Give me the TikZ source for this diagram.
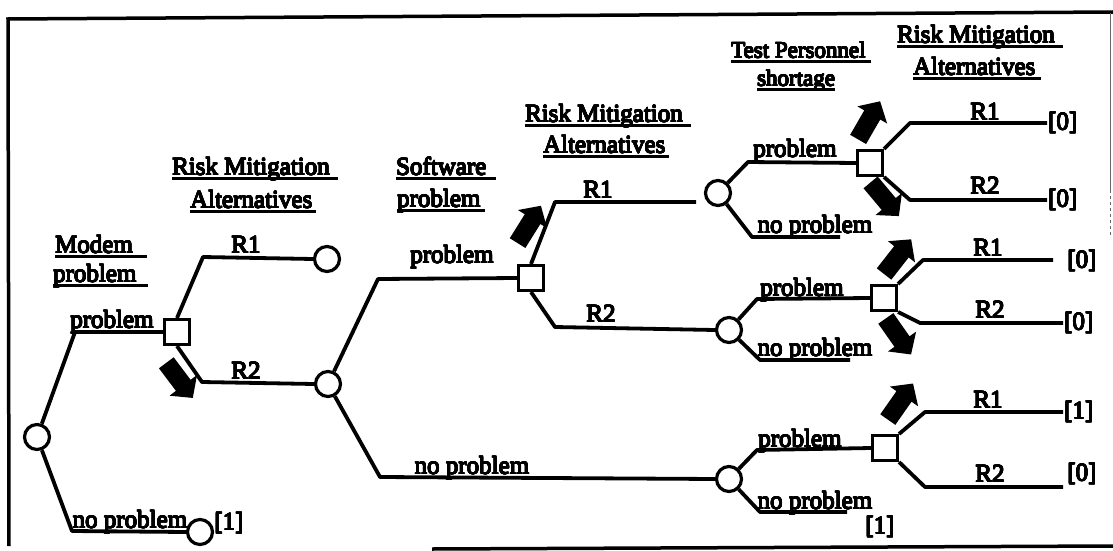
\documentclass[tikz,border=0pt]{standalone}
\usepackage{fontspec}
\setmainfont{Liberation Serif}
\usepackage{contour}
\contourlength{0.45pt}
\contournumber{16}
\usetikzlibrary{shapes.arrows}

% heavy type, as printed
\newcommand\tx[1]{\contour{black}{#1}}
% underlined heading text; the rule runs a little past the word
\newcommand\hul[2][8pt]{\sbox0{\tx{#2}}\rlap{\rule[-4.6pt]{\dimexpr\wd0+#1\relax}{2.4pt}}\usebox0}
% strut that sets the shaft width of a marker arrow
\newcommand\shaft{\rule{0pt}{18pt}}

\tikzset{
  branch/.style={line width=3.8pt, line join=round},
  chance/.style={circle, draw, line width=3.2pt, minimum size=25pt, inner sep=0pt, fill=white},
  decision/.style={rectangle, draw, line width=3pt, minimum size=25pt, inner sep=0pt, fill=white},
  lbl/.style={font=\fontsize{25}{28}\selectfont, inner sep=0pt, anchor=base},
  val/.style={font=\fontsize{25}{28}\selectfont, inner sep=1pt},
  head/.style={font=\fontsize{25}{28}\selectfont, inner sep=0pt, anchor=base west},
  smallhead/.style={font=\fontsize{23}{26}\selectfont, inner sep=0pt, anchor=base west},
  fat/.style={single arrow, fill=black, draw=none, inner xsep=0pt, inner ysep=0pt,
    minimum height=44pt, single arrow head extend=8pt, single arrow tip angle=95},
  frame/.style={line width=3.5pt}
}

\begin{document}
\begin{tikzpicture}[x=1pt,y=-1pt]
\useasboundingbox (0,0) rectangle (1113,551);

% outer frame
\draw[frame] (1113,12) -- (8,19) -- (9,546);
\draw[frame] (432,549) -- (1113,546);
\draw[line width=1pt, black!60] (1110,13) -- (1110,190);
\draw[line width=1pt, black!60, dashed] (1110,190) -- (1110,236);

% decision and chance nodes
\node[chance]   (c1)  at (37,437)  {};
\node[decision] (sq1) at (177,332) {};
\node[chance]   (c2)  at (327,259) {};
\node[chance]   (c3)  at (328,384) {};
\node[chance]   (c4)  at (200,532) {};
\node[decision] (sq2) at (531,278) {};
\node[chance]   (c5)  at (718,193) {};
\node[chance]   (c6)  at (729,330) {};
\node[chance]   (c7)  at (729,479) {};
\node[decision] (sq3) at (870,163) {};
\node[decision] (sq4) at (884,298) {};
\node[decision] (sq5) at (885,448) {};

% loose branch ends
\coordinate (er12) at (696,202);
\coordinate (enp3) at (840,237);
\coordinate (enp4) at (850,360);
\coordinate (enp5) at (847,512);
\coordinate (e13) at (1047,123);
\coordinate (e23) at (1047,200);
\coordinate (e14) at (1053,260);
\coordinate (e24) at (1063,323);
\coordinate (e15) at (1063,412);
\coordinate (e25) at (1063,487);

% branches
\draw[branch] (c1) -- (75,332) -- (sq1.west);
\draw[branch] (c1) -- (72,531) -- (c4.west);
\draw[branch] (sq1.north) -- (203,257) -- (c2.west);
\draw[branch] (sq1.south) -- (202,382) -- (c3.west);
\draw[branch] (c3) -- (378,279) -- (sq2.west);
\draw[branch] (c3) -- (380,477) -- (c7.west);
\draw[branch] (sq2.north) -- (555,202) -- (er12);
\draw[branch] (sq2.south) -- (555,327) -- (c6.west);
\draw[branch] (c5) -- (748,162) -- (sq3.west);
\draw[branch] (c5) -- (752,237) -- (enp3);
\draw[branch] (sq3.north east) -- (910,123) -- (e13);
\draw[branch] (sq3.south east) -- (910,200) -- (e23);
\draw[branch] (c6) -- (757,299) -- (sq4.west);
\draw[branch] (c6) -- (760,360) -- (enp4);
\draw[branch] (sq4.north east) -- (923,260) -- (e14);
\draw[branch] (sq4.south east) -- (920,323) -- (e24);
\draw[branch] (c7) -- (757,450) -- (sq5.west);
\draw[branch] (c7) -- (760,512) -- (enp5);
\draw[branch] (sq5.north east) -- (925,412) -- (e15);
\draw[branch] (sq5.south east) -- (925,487) -- (e25);

% stage headings
\node[head] (h1a) at (55,253)  {\hul[14pt]{Modem}};
\node[head] (h1b) at (53,282)  {\hul[11pt]{problem}};
\node[head] (h2a) at (172,175) {\hul[8pt]{Risk Mitigation}};
\node[head] (h2b) at (190,208) {\hul[4pt]{Alternatives}};
\node[head] (h3a) at (396,175) {\hul[10pt]{Software}};
\node[head] (h3b) at (397,207) {\hul[4pt]{problem}};
\node[head] (h4a) at (525,122) {\hul[8pt]{Risk Mitigation}};
\node[head] (h4b) at (543,153) {\hul[4pt]{Alternatives}};
\node[smallhead] (h5a) at (731,58) {\hul[5pt]{Test Personnel}};
\node[smallhead] (h5b) at (757,86) {\hul[0pt]{shortage}};
\node[head] (h6a) at (897,43)  {\hul[8pt]{Risk Mitigation}};
\node[head] (h6b) at (913,75)  {\hul[6pt]{Alternatives}};

% branch labels
\node[lbl] (p1)  at (112,328) {\tx{problem}};
\node[lbl] (np1) at (130,528) {\tx{no problem}};
\node[lbl] (v1)  at (229,530) {\tx{[1]}};
\node[lbl] (r11) at (246,253) {\tx{R1}};
\node[lbl] (r21) at (246,379) {\tx{R2}};
\node[lbl] (p2)  at (452,263) {\tx{problem}};
\node[lbl] (np2) at (472,474) {\tx{no problem}};
\node[lbl] (r12) at (598,198) {\tx{R1}};
\node[lbl] (r22) at (601,322) {\tx{R2}};
\node[lbl] (p3)  at (795,157) {\tx{problem}};
\node[lbl] (np3) at (815,233) {\tx{no problem}};
\node[lbl] (r13) at (985,120) {\tx{R1}};
\node[lbl] (r23) at (985,194) {\tx{R2}};
\node[lbl] (p4)  at (802,296) {\tx{problem}};
\node[lbl] (np4) at (815,356) {\tx{no problem}};
\node[lbl] (r14) at (988,256) {\tx{R1}};
\node[lbl] (r24) at (990,318) {\tx{R2}};
\node[lbl] (p5)  at (800,447) {\tx{problem}};
\node[lbl] (np5) at (815,509) {\tx{no problem}};
\node[lbl] (r15) at (988,408) {\tx{R1}};
\node[lbl] (r25) at (990,482) {\tx{R2}};

% outcome values
\node[val, anchor=west] (v13) at (e13) {\tx{[0]}};
\node[val, anchor=west] (v23) at (e23) {\tx{[0]}};
\node[val] (v14) at (1082,261) {\tx{[0]}};
\node[val, anchor=west] (v24) at (e24) {\tx{[0]}};
\node[val, anchor=west] (v15) at (e15) {\tx{[1]}};
\node[val] (v25) at (1082,474) {\tx{[0]}};
\node[val] (v5)  at (880,527) {\tx{[1]}};

% chosen-alternative markers
\node[fat, rotate=-53] (a1) at (177,377) {\shaft};
\node[fat, rotate=58]  (a2) at (527,228) {\shaft};
\node[fat, rotate=60]  (a3) at (867,124) {\shaft};
\node[fat, rotate=-50] (a4) at (882,196) {\shaft};
\node[fat, rotate=52]  (a5) at (895,260) {\shaft};
\node[fat, rotate=-55] (a6) at (896,333) {\shaft};
\node[fat, rotate=55]  (a7) at (898,405) {\shaft};
\end{tikzpicture}
\end{document}
